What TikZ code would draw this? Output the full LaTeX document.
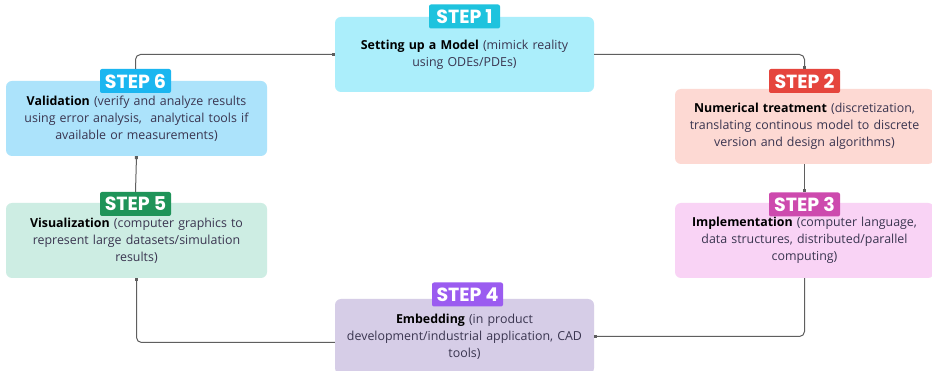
\documentclass[tikz,border=0pt]{standalone}
\usepackage{fontspec}
\setmainfont{Open Sans}
\newfontfamily\tagfont{Poppins}
\usetikzlibrary{arrows.meta}

\definecolor{boxOne}{HTML}{ABEEFB}
\definecolor{tagOne}{HTML}{1EC3DE}
\definecolor{boxTwo}{HTML}{FDD9D3}
\definecolor{tagTwo}{HTML}{E5453D}
\definecolor{boxThree}{HTML}{F9D3F5}
\definecolor{tagThree}{HTML}{CD4AAE}
\definecolor{boxFour}{HTML}{D6CDE7}
\definecolor{tagFour}{HTML}{9B5CF0}
\definecolor{boxFive}{HTML}{CDEDE3}
\definecolor{tagFive}{HTML}{1F9459}
\definecolor{boxSix}{HTML}{ACE3FB}
\definecolor{tagSix}{HTML}{1BB6F0}
\definecolor{bodyText}{HTML}{3A3550}
\definecolor{linkGray}{HTML}{5F5F5F}

\tikzset{
  stepbox/.style={rounded corners=6pt, minimum width=259pt, minimum height=75pt,
    text width=255pt, align=center, text=bodyText,
    font=\fontsize{12.4}{17}\selectfont, inner sep=0pt},
  steptag/.style={rounded corners=2pt, minimum width=71pt, minimum height=24pt,
    text=white, inner sep=0pt, font=\tagfont\bfseries\fontsize{19}{19}\selectfont},
  link/.style={draw=linkGray, line width=1pt, rounded corners=5pt,
    -{Square[length=3pt,width=3pt]}}
}
\newcommand{\steptitle}[1]{\textcolor{black}{\textbf{#1}}}

\begin{document}
\begin{tikzpicture}[x=1pt,y=-1pt]
\useasboundingbox[fill=white] (0,0) rectangle (932,371);

\node[stepbox, fill=boxOne] (model) at (464.5,54.5)
  {\steptitle{Setting up a Model} (mimick reality\\ using ODEs/PDEs)};
\node[stepbox, fill=boxTwo] (numerics) at (804.5,126.5)
  {\steptitle{Numerical treatment} (discretization,\\ translating continous model to discrete\\ version and design algorithms)};
\node[stepbox, fill=boxThree] (implement) at (804.5,240.5)
  {\steptitle{Implementation} (computer language,\\ data structures, distributed/parallel\\ computing)};
\node[stepbox, fill=boxFour] (embed) at (464.5,336.5)
  {\steptitle{Embedding} (in product\\ development/industrial application, CAD\\ tools)};
\node[stepbox, fill=boxFive, minimum width=261pt] (visual) at (136.5,240.5)
  {\steptitle{Visualization} (computer graphics to\\ represent large datasets/simulation\\ results)};
\node[stepbox, fill=boxSix, minimum width=261pt] (validate) at (136.5,118.5)
  {\steptitle{Validation} (verify and analyze results\\ using error analysis,~ analytical tools if\\ available or measurements)};

\node[steptag, fill=tagOne] (tagOne) at (464.5,16.5) {STEP 1};
\node[steptag, fill=tagTwo] (tagTwo) at (804.5,81) {STEP 2};
\node[steptag, fill=tagThree] (tagThree) at (804.5,204.5) {STEP 3};
\node[steptag, fill=tagFour] (tagFour) at (467.5,294.5) {STEP 4};
\node[steptag, fill=tagFive] (tagFive) at (135.5,204) {STEP 5};
\node[steptag, fill=tagSix] (tagSix) at (135.5,81) {STEP 6};

\draw[link] (tagSix.north) |- (model.west);
\draw[link] (model.east) -| (tagTwo.north);
\draw[link] (numerics.south) -- (tagThree.north);
\draw[link] (implement.south) |- (embed.east);
\draw[link] ([yshift=-6pt]embed.west) -| (visual.south);
\draw[link] (tagFive.north) -- (validate.south);
\end{tikzpicture}
\end{document}
